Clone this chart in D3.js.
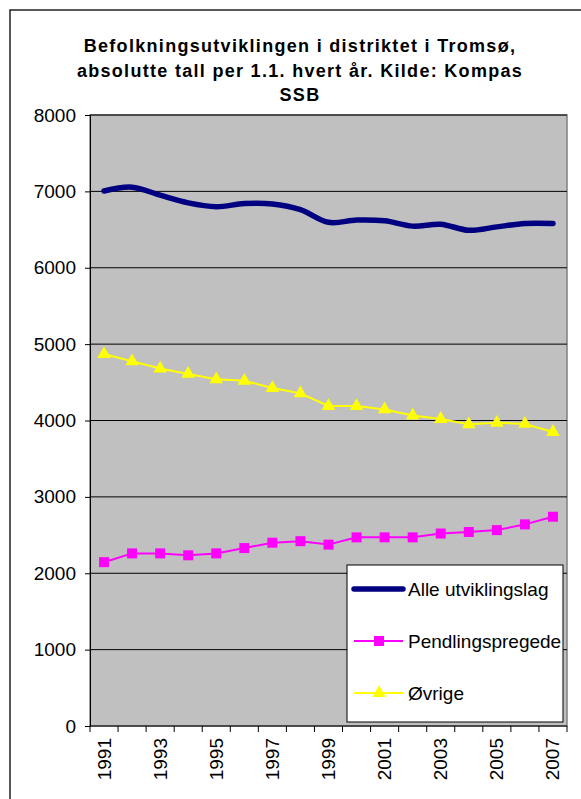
<!DOCTYPE html>
<html>
<head>
<meta charset="utf-8">
<script src="https://cdn.jsdelivr.net/npm/d3@7"></script>
<style>
  body { margin: 0; background: #fff; }
  text { font-family: Arial, "Liberation Sans", sans-serif; fill: #000; }
</style>
</head>
<body>
<svg id="chart" width="581" height="799"></svg>
<script>
// Data
var years = [1991, 1992, 1993, 1994, 1995, 1996, 1997, 1998, 1999, 2000, 2001, 2002, 2003, 2004, 2005, 2006, 2007];
var alle = [7005, 7055, 6950, 6850, 6800, 6840, 6835, 6760, 6595, 6625, 6615, 6545, 6570, 6490, 6535, 6580, 6580];
var pendling = [2145, 2260, 2260, 2235, 2260, 2330, 2400, 2420, 2375, 2470, 2470, 2470, 2520, 2540, 2565, 2640, 2740];
var ovrige = [4870, 4775, 4680, 4610, 4540, 4520, 4425, 4355, 4190, 4190, 4145, 4065, 4020, 3950, 3970, 3955, 3850];
var yTicks = [0, 1000, 2000, 3000, 4000, 5000, 6000, 7000, 8000];
var titleLines = ["Befolkningsutviklingen i distriktet i Tromsø,", "absolutte tall per 1.1. hvert år. Kilde: Kompas", "SSB"];
var legendNames = ["Alle utviklingslag", "Pendlingspregede", "Øvrige"];

var svg = d3.select("#chart");

// plot area  (don't call it "top", that's window.top)
var pLeft = 90, pRight = 567, pTop = 115, pBottom = 726;

var x = d3.scaleBand()
    .domain(years)
    .range([pLeft, pRight]);

var y = d3.scaleLinear()
    .domain([0, 8000])
    .range([pBottom, pTop]);

function cx(d, i) { return x(years[i]) + x.bandwidth() / 2; }

// outer frame (only left and top are visible)
svg.append("path")
    .attr("d", "M10,800 L10,10 L582,10")
    .attr("fill", "none")
    .attr("stroke", "#222")
    .attr("stroke-width", 1.5);

// Title
svg.append("g").selectAll("text")
    .data(titleLines)
    .enter().append("text")
    .attr("x", 300)
    .attr("y", function (d, i) { return 52 + i * 24.5; })
    .attr("text-anchor", "middle")
    .style("font-size", "18px")
    .style("font-weight", "bold")
    .style("letter-spacing", "1.3px")
    .text(function (d) { return d; });

// gray background
svg.append("rect")
    .attr("x", pLeft)
    .attr("y", pTop)
    .attr("width", pRight - pLeft)
    .attr("height", pBottom - pTop)
    .attr("fill", "#c0c0c0")
    .attr("stroke", "#808080")
    .attr("stroke-width", 1.5);

// gridlines
svg.append("g").selectAll("line")
    .data(yTicks.slice(1))
    .enter().append("line")
    .attr("x1", pLeft)
    .attr("x2", pRight)
    .attr("y1", function (d) { return y(d); })
    .attr("y2", function (d) { return y(d); })
    .attr("stroke", "#000")
    .attr("stroke-width", 1);

// y axis
var yAxis = d3.axisLeft(y)
    .tickValues(yTicks)
    .tickFormat(d3.format("d"))
    .tickSize(5)
    .tickPadding(9);
var gy = svg.append("g")
    .attr("transform", "translate(" + pLeft + ",0)")
    .call(yAxis);
gy.select(".domain").attr("stroke", "#000");
gy.selectAll("text")
    .style("font-size", "19px")
    .style("font-family", "Arial, 'Liberation Sans', sans-serif");

// x axis, ticks between the categories
var bounds = years.map(function (d) { return x(d); }).concat([pRight]);
var gx = svg.append("g");
gx.append("line")
    .attr("x1", pLeft).attr("x2", pRight)
    .attr("y1", pBottom).attr("y2", pBottom)
    .attr("stroke", "#000");
gx.selectAll(".tk")
    .data(bounds)
    .enter().append("line")
    .attr("class", "tk")
    .attr("x1", function (d) { return d; })
    .attr("x2", function (d) { return d; })
    .attr("y1", pBottom)
    .attr("y2", pBottom + 6)
    .attr("stroke", "#000");
gx.selectAll("text")
    .data(years.filter(function (d, i) { return i % 2 == 0; }))
    .enter().append("text")
    .attr("transform", function (d) {
        return "translate(" + (x(d) + x.bandwidth() / 2) + "," + (pBottom + 12) + ") rotate(-90)";
    })
    .attr("text-anchor", "end")
    .attr("dominant-baseline", "central")
    .style("font-size", "19px")
    .text(function (d) { return d; });

// Lines
var smooth = d3.line()
    .x(cx)
    .y(function (d) { return y(d); })
    .curve(d3.curveCatmullRom.alpha(0));

var straight = d3.line()
    .x(cx)
    .y(function (d) { return y(d); });

svg.append("path")
    .datum(ovrige)
    .attr("d", straight)
    .attr("fill", "none")
    .attr("stroke", "#ffff00")
    .attr("stroke-width", 2);

svg.append("path")
    .datum(pendling)
    .attr("d", straight)
    .attr("fill", "none")
    .attr("stroke", "#ff00ff")
    .attr("stroke-width", 2);

svg.append("path")
    .datum(alle)
    .attr("d", smooth)
    .attr("fill", "none")
    .attr("stroke", "#000080")
    .attr("stroke-width", 5.5)
    .attr("stroke-linecap", "round")
    .attr("stroke-linejoin", "round");

// markers
var tri = d3.symbol().type(d3.symbolTriangle).size(80);
svg.append("g").selectAll("path")
    .data(ovrige)
    .enter().append("path")
    .attr("d", tri)
    .attr("transform", function (d, i) { return "translate(" + cx(d, i) + "," + y(d) + ")"; })
    .attr("fill", "#ffff00");

svg.append("g").selectAll("rect")
    .data(pendling)
    .enter().append("rect")
    .attr("x", function (d, i) { return cx(d, i) - 5; })
    .attr("y", function (d) { return y(d) - 5; })
    .attr("width", 10)
    .attr("height", 10)
    .attr("fill", "#ff00ff");

// Legend
var lg = svg.append("g").attr("transform", "translate(347,565)");
lg.append("rect")
    .attr("width", 216)
    .attr("height", 157)
    .attr("fill", "#fff")
    .attr("stroke", "#000")
    .attr("stroke-width", 1);

var rows = lg.selectAll("g.row")
    .data(legendNames)
    .enter().append("g")
    .attr("class", "row")
    .attr("transform", function (d, i) { return "translate(0," + (24 + i * 52) + ")"; });

rows.append("line")
    .attr("x1", 7).attr("x2", 56)
    .attr("stroke", function (d, i) { return ["#000080", "#ff00ff", "#ffff00"][i]; })
    .attr("stroke-width", function (d, i) { return i == 0 ? 5.5 : 2; })
    .attr("stroke-linecap", function (d, i) { return i == 0 ? "round" : "butt"; });

rows.filter(function (d, i) { return i == 1; })
    .append("rect")
    .attr("x", 27).attr("y", -5)
    .attr("width", 10).attr("height", 10)
    .attr("fill", "#ff00ff");

rows.filter(function (d, i) { return i == 2; })
    .append("path")
    .attr("d", tri)
    .attr("transform", "translate(32,0)")
    .attr("fill", "#ffff00");

rows.append("text")
    .attr("x", 61)
    .attr("dominant-baseline", "central")
    .style("font-size", "19px")
    .text(function (d) { return d; });
</script>
</body>
</html>
